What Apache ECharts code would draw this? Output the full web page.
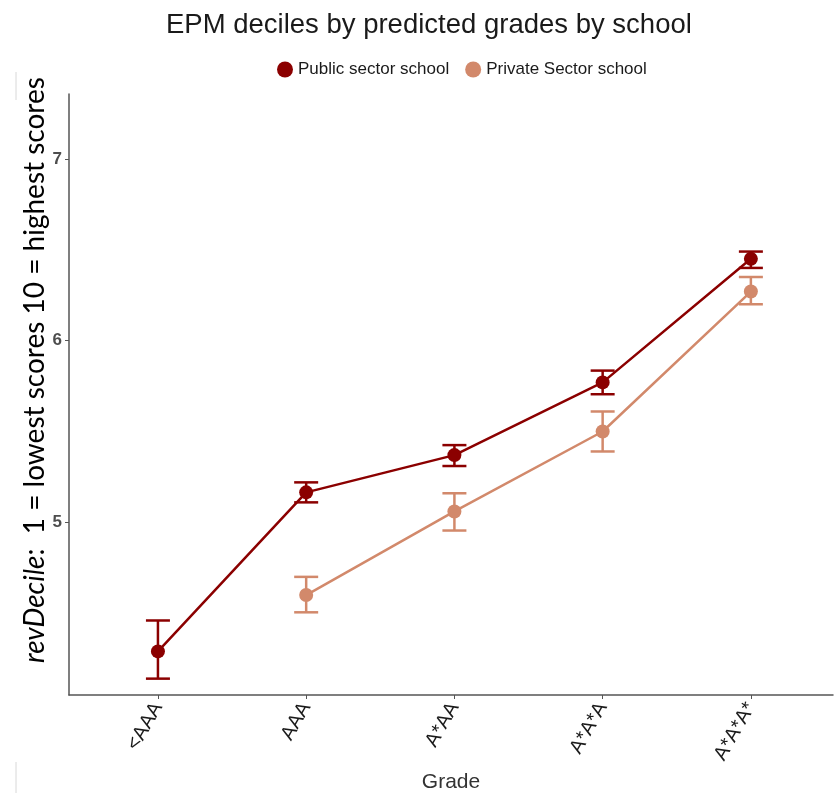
<!DOCTYPE html>
<html>
<head>
<meta charset="utf-8">
<script src="https://cdn.jsdelivr.net/npm/echarts@6/dist/echarts.min.js"></script>
<style>
  html, body { margin: 0; padding: 0; background: #fff; }
  #chart { width: 834px; height: 793px; }
</style>
</head>
<body>
<div id="chart"></div>
<script>
// Predicted-grade bands on the x axis
const grades = ['<AAA', 'AAA', 'A*AA', 'A*A*A', 'A*A*A*'];

// Mean reversed EPM decile per grade band (null = no group in that band)
const publicMean  = [4.29, 5.165, 5.37, 5.77, 6.45];
const publicLow   = [4.14, 5.11, 5.31, 5.705, 6.40];
const publicHigh  = [4.46, 5.22, 5.425, 5.835, 6.49];

const privateMean = [null, 4.60, 5.06, 5.50, 6.27];
const privateLow  = [null, 4.505, 4.955, 5.39, 6.20];
const privateHigh = [null, 4.70, 5.16, 5.61, 6.35];

const yTicks = [5, 6, 7];

const publicColor = '#8B0000';
const privateColor = '#D2896B';

function points(mean) {
  return mean.map((v, i) => [i, v]).filter(d => d[1] !== null);
}
function bars(low, high) {
  return low.map((v, i) => [i, v, high[i]]).filter(d => d[1] !== null);
}

function errorBar(color) {
  return function (params, api) {
    const x = api.value(0);
    const lo = api.coord([x, api.value(1)]);
    const hi = api.coord([x, api.value(2)]);
    const half = 12;
    const style = { stroke: color, lineWidth: 2.5 };
    return {
      type: 'group',
      children: [
        { type: 'line', shape: { x1: lo[0], y1: lo[1], x2: hi[0], y2: hi[1] }, style },
        { type: 'line', shape: { x1: lo[0] - half, y1: lo[1], x2: lo[0] + half, y2: lo[1] }, style },
        { type: 'line', shape: { x1: hi[0] - half, y1: hi[1], x2: hi[0] + half, y2: hi[1] }, style }
      ]
    };
  };
}

const chart = echarts.init(document.getElementById('chart'), null, { renderer: 'canvas' });

chart.setOption({
  animation: false,
  backgroundColor: '#ffffff',
  title: {
    text: 'EPM deciles by predicted grades by school',
    left: 161,
    top: 6,
    textStyle: { fontFamily: 'Liberation Sans', fontSize: 27.5, fontWeight: 'normal', color: '#1a1a1a' }
  },
  legend: {
    left: 272,
    top: 56,
    itemWidth: 16,
    itemHeight: 16,
    itemGap: 16,
    icon: 'circle',
    textStyle: { fontFamily: 'Liberation Sans', fontSize: 17, color: '#1a1a1a' },
    data: ['Public sector school', 'Private Sector school']
  },
  grid: { left: 69, right: 1, top: 94, bottom: 98, outerBoundsMode: 'none', containLabel: false },
  xAxis: {
    type: 'value',
    min: -0.6,
    max: 4.554,
    splitLine: { show: false },
    axisLine: { show: true, onZero: false, lineStyle: { color: '#555', width: 1.5 } },
    axisTick: { show: true, customValues: [0, 1, 2, 3, 4], length: 4, lineStyle: { color: '#555' } },
    axisLabel: {
      customValues: [0, 1, 2, 3, 4],
      formatter: v => grades[Math.round(v)],
      rotate: 60,
      fontFamily: 'Liberation Sans',
      fontSize: 20,
      color: '#1a1a1a',
      margin: 9
    },
    name: 'Grade',
    nameLocation: 'middle',
    nameGap: 75,
    nameTextStyle: { fontFamily: 'Liberation Sans', fontSize: 21, color: '#333' }
  },
  yAxis: {
    type: 'value',
    min: 4.05,
    max: 7.357,
    splitLine: { show: false },
    axisLine: { show: true, onZero: false, lineStyle: { color: '#555', width: 1.5 } },
    axisTick: { show: true, customValues: yTicks, length: 4, lineStyle: { color: '#555' } },
    axisLabel: {
      customValues: yTicks,
      fontFamily: 'Liberation Sans',
      fontSize: 17,
      fontWeight: 'bold',
      color: '#4d4d4d',
      margin: 7
    }
  },
  graphic: [
    {
      type: 'text',
      x: 35,
      y: 370,
      rotation: Math.PI / 2,
      style: {
        text: '{i|revDecile}{n|:  1 = lowest scores 10 = highest scores}',
        align: 'center',
        verticalAlign: 'middle',
        rich: {
          i: { fontFamily: 'Lato', fontStyle: 'italic', fontSize: 28, fill: '#000' },
          n: { fontFamily: 'Lato', fontSize: 28, fill: '#000' }
        }
      }
    },
    { type: 'line', shape: { x1: 16, y1: 72, x2: 16, y2: 100 }, style: { stroke: '#d8d8d8', lineWidth: 1 } },
    { type: 'line', shape: { x1: 16, y1: 762, x2: 16, y2: 793 }, style: { stroke: '#d8d8d8', lineWidth: 1 } }
  ],
  series: [
    {
      name: 'Public sector school',
      type: 'custom',
      renderItem: errorBar(publicColor),
      data: bars(publicLow, publicHigh),
      itemStyle: { color: publicColor },
      z: 2
    },
    {
      name: 'Private Sector school',
      type: 'custom',
      renderItem: errorBar(privateColor),
      data: bars(privateLow, privateHigh),
      itemStyle: { color: privateColor },
      z: 2
    },
    {
      name: 'Public sector school',
      type: 'line',
      data: points(publicMean),
      symbol: 'circle',
      symbolSize: 14,
      lineStyle: { color: publicColor, width: 2.5 },
      itemStyle: { color: publicColor },
      z: 3
    },
    {
      name: 'Private Sector school',
      type: 'line',
      data: points(privateMean),
      symbol: 'circle',
      symbolSize: 14,
      lineStyle: { color: privateColor, width: 2.5 },
      itemStyle: { color: privateColor },
      z: 3
    }
  ]
});
</script>
</body>
</html>
